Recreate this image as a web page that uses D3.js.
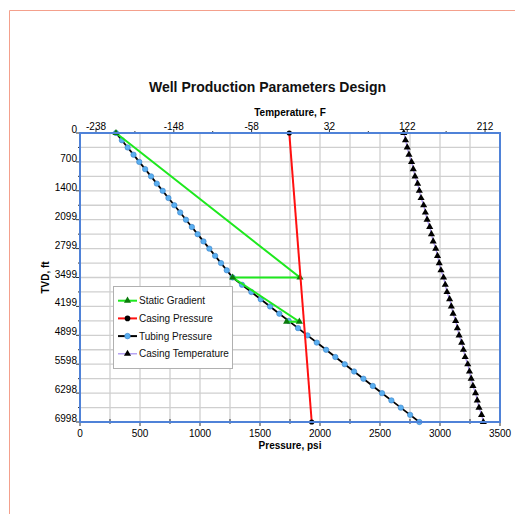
<!DOCTYPE html>
<html>
<head>
<meta charset="utf-8">
<script src="https://d3js.org/d3.v7.min.js"></script>
<style>
  body { margin: 0; background: #fff; }
  svg { display: block; font-family: Arial, "Liberation Sans", sans-serif; }
</style>
</head>
<body>
<script>
"use strict";

// depth points (ft) shared by tubing pressure and casing temperature
var depths = [0, 175, 350, 525, 700, 875, 1050, 1225, 1400, 1575, 1750, 1925, 2100, 2275,
  2450, 2625, 2800, 2975, 3150, 3325, 3499, 3675, 3850, 4025, 4200, 4375, 4550, 4725,
  4900, 5075, 5250, 5425, 5600, 5775, 5950, 6125, 6300, 6475, 6650, 6825, 6998];

var tubingPressure = [300, 349, 397, 446, 494, 543, 592, 640, 689, 737, 786, 835, 883, 932,
  980, 1029, 1078, 1126, 1175, 1223, 1272, 1350, 1428, 1506, 1584, 1661, 1739, 1817,
  1895, 1973, 2051, 2128, 2206, 2284, 2362, 2440, 2517, 2595, 2673, 2751, 2828];

var casingTemp = [118, 120, 122, 124, 127, 129, 131, 134, 136, 138, 141, 143, 145, 148,
  150, 152, 155, 157, 159, 161, 164, 166, 168, 171, 173, 175, 178, 180, 182, 185, 187,
  189, 192, 194, 196, 198, 201, 203, 205, 208, 210];

var casingDepth = [0, 6998];
var casingPressure = [1744, 1931];

var staticDepth = [0, 3499, 3499, 4570, 4570];
var staticPressure = [300, 1833, 1272, 1828, 1722];

var depthTicks = [0, 700, 1400, 2099, 2799, 3499, 4199, 4899, 5598, 6298, 6998];
var pressureTicks = [0, 500, 1000, 1500, 2000, 2500, 3000, 3500];
var tempTicks = [-238, -148, -58, 32, 122, 212];

var legendNames = ["Static Gradient", "Casing Pressure", "Tubing Pressure", "Casing Temperature"];

function draw() {
  var width = 515, height = 514;
  var left = 80, right = 500, top = 133, bottom = 422;

  var svg = d3.select("body").append("svg")
    .attr("width", width).attr("height", height);

  // page frame
  svg.append("line").attr("x1", 9.5).attr("y1", 10.5).attr("x2", width).attr("y2", 10.5)
    .style("stroke", "#f4a08c");
  svg.append("line").attr("x1", 9.5).attr("y1", 10.5).attr("x2", 9.5).attr("y2", height)
    .style("stroke", "#f4a08c");

  var x = d3.scaleLinear().domain([0, 3500]).range([left, right]);
  var xt = d3.scaleLinear().domain([-256.5, 229.3]).range([left, right]);
  var y = d3.scaleLinear().domain([0, 6998]).range([top, bottom]);

  svg.append("text")
    .attr("x", 267.5).attr("y", 92)
    .style("text-anchor", "middle").style("font-size", "14px").style("font-weight", "bold")
    .style("fill", "#111")
    .text("Well Production Parameters Design");

  // grid
  var g = svg.append("g");
  d3.range(0, 3501, 250).forEach(function(v) {
    g.append("line").attr("x1", x(v)).attr("x2", x(v)).attr("y1", top).attr("y2", bottom)
      .style("stroke", "#cfcfcf").style("stroke-width", 1.3);
  });
  d3.range(0, 21).forEach(function(i) {
    var v = 6998 * i / 20;
    g.append("line").attr("x1", left).attr("x2", right).attr("y1", y(v)).attr("y2", y(v))
      .style("stroke", "#cfcfcf").style("stroke-width", 1.3);
  });

  // ticks and labels
  var axisColor = "#333";
  pressureTicks.forEach(function(v) {
    svg.append("line").attr("x1", x(v)).attr("x2", x(v)).attr("y1", bottom).attr("y2", bottom + 4)
      .style("stroke", axisColor);
    svg.append("text").attr("x", x(v)).attr("y", 437)
      .style("text-anchor", "middle").style("font-size", "10px").text(v);
  });
  d3.range(250, 3500, 500).forEach(function(v) {
    svg.append("line").attr("x1", x(v)).attr("x2", x(v)).attr("y1", bottom - 3).attr("y2", bottom + 2)
      .style("stroke", axisColor);
  });
  d3.range(-238, 230, 45).forEach(function(v, i) {
    svg.append("line").attr("x1", xt(v)).attr("x2", xt(v)).attr("y1", top).attr("y2", top - (i % 2 ? 2 : 4))
      .style("stroke", axisColor);
  });
  tempTicks.forEach(function(v) {
    svg.append("text").attr("x", xt(v)).attr("y", 129.5)
      .style("text-anchor", "middle").style("font-size", "10px").text(v);
  });
  d3.range(0, 21).forEach(function(i) {
    var v = 6998 * i / 20;
    svg.append("line").attr("x1", left).attr("x2", left - (i % 2 ? 2 : 4)).attr("y1", y(v)).attr("y2", y(v))
      .style("stroke", axisColor);
  });
  depthTicks.forEach(function(v) {
    svg.append("text").attr("x", 77).attr("y", y(v))
      .style("text-anchor", "end").style("font-size", "10px").text(v);
  });

  // axis titles
  svg.append("text").attr("x", 290).attr("y", 116)
    .style("text-anchor", "middle").style("font-size", "10px").style("font-weight", "bold")
    .text("Temperature, F");
  svg.append("text").attr("x", 290).attr("y", 449)
    .style("text-anchor", "middle").style("font-size", "10px").style("font-weight", "bold")
    .text("Pressure, psi");
  svg.append("text").attr("transform", "translate(49," + ((top + bottom) / 2) + ") rotate(-90)")
    .style("text-anchor", "middle").style("font-size", "10px").style("font-weight", "bold")
    .text("TVD, ft");

  var tri = d3.symbol().type(d3.symbolTriangle).size(22);
  var line = d3.line();

  // casing temperature
  var tempPts = depths.map(function(d, i) { return [xt(casingTemp[i]), y(d)]; });
  svg.append("path").attr("d", line(tempPts))
    .style("fill", "none").style("stroke", "#a48cf0").style("stroke-width", 1.2);
  svg.selectAll(".tt").data(tempPts).enter().append("path")
    .attr("transform", function(p) { return "translate(" + p[0] + "," + p[1] + ")"; })
    .attr("d", tri).style("fill", "#000");

  // tubing pressure
  var tubPts = depths.map(function(d, i) { return [x(tubingPressure[i]), y(d)]; });
  svg.append("path").attr("d", line(tubPts))
    .style("fill", "none").style("stroke", "#000").style("stroke-width", 1.8);
  svg.selectAll(".tp").data(tubPts).enter().append("circle")
    .attr("cx", function(p) { return p[0]; }).attr("cy", function(p) { return p[1]; })
    .attr("r", 2.7).style("fill", "#5aaff0").style("stroke", "#3a82c8").style("stroke-width", 0.6);

  // static gradient
  var statPts = staticDepth.map(function(d, i) { return [x(staticPressure[i]), y(d)]; });
  svg.append("path").attr("d", line(statPts))
    .style("fill", "none").style("stroke", "#1ee81e").style("stroke-width", 2);
  svg.selectAll(".sg").data(statPts).enter().append("path")
    .attr("transform", function(p) { return "translate(" + p[0] + "," + p[1] + ")"; })
    .attr("d", tri).style("fill", "#0b7a0b");

  // casing pressure
  var casPts = casingDepth.map(function(d, i) { return [x(casingPressure[i]), y(d)]; });
  svg.append("path").attr("d", line(casPts))
    .style("fill", "none").style("stroke", "#ff1010").style("stroke-width", 2);
  svg.selectAll(".cp").data(casPts).enter().append("circle")
    .attr("cx", function(p) { return p[0]; }).attr("cy", function(p) { return p[1]; })
    .attr("r", 2.6).style("fill", "#000");

  // plot frame
  svg.append("rect").attr("x", left).attr("y", top).attr("width", right - left).attr("height", bottom - top)
    .style("fill", "none").style("stroke", "#4f82d8").style("stroke-width", 2);

  // legend
  var lg = svg.append("g").attr("transform", "translate(113,286)");
  lg.append("rect").attr("x", 0.5).attr("y", 0.5).attr("width", 119).attr("height", 82)
    .style("fill", "#fff").style("stroke", "#b0b0b0");
  var lineCols = ["#1ee81e", "#ff1010", "#000", "#a48cf0"];
  legendNames.forEach(function(name, i) {
    var ly = 14.7 + i * 17.7;
    lg.append("line").attr("x1", 5).attr("x2", 24).attr("y1", ly).attr("y2", ly)
      .style("stroke", lineCols[i]).style("stroke-width", i == 3 ? 1.2 : 2);
    if (i == 0 || i == 3) {
      lg.append("path").attr("transform", "translate(14.5," + ly + ")").attr("d", tri)
        .style("fill", i == 0 ? "#0b7a0b" : "#000");
    } else {
      lg.append("circle").attr("cx", 14.5).attr("cy", ly).attr("r", 2.8)
        .style("fill", i == 1 ? "#000" : "#5aaff0")
        .style("stroke", i == 1 ? "none" : "#3a82c8").style("stroke-width", 0.6);
    }
    lg.append("text").attr("x", 26).attr("y", ly + 3.5).style("font-size", "10px").style("fill", "#111")
      .text(name);
  });
}

draw();
</script>
</body>
</html>
